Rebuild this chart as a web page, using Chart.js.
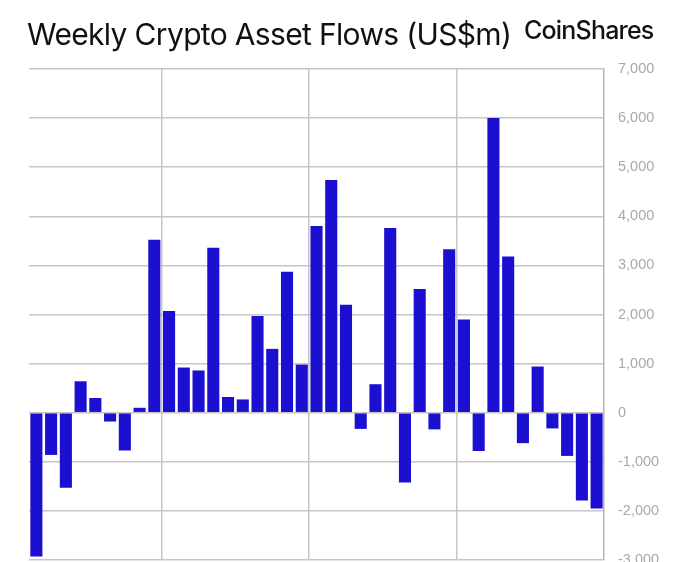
<!DOCTYPE html>
<html>
<head>
<meta charset="utf-8">
<title>Weekly Crypto Asset Flows</title>
<script src="https://cdn.jsdelivr.net/npm/chart.js@4"></script>
<style>
    html, body { margin: 0; padding: 0; background: #fff; overflow: hidden; }
    body { width: 680px; height: 562px; position: relative; }
    #title { position: absolute; left: 27px; top: 16px; font: 400 30px Inter, sans-serif; letter-spacing: -0.66px; color: #111; white-space: nowrap; }
    #logo { position: absolute; left: 524px; top: 15px; font: 500 25px Inter, sans-serif; letter-spacing: -0.8px; color: #111; white-space: nowrap; }
    #wrap { position: absolute; left: 0; top: 0; width: 680px; height: 600px; }
</style>
</head>
<body>
<div id="wrap"><canvas id="flowChart"></canvas></div>
<div id="title">Weekly Crypto Asset Flows (US$m)</div>
<div id="logo">CoinShares</div>
<script>
const weeks = ['W1', 'W2', 'W3', 'W4', 'W5', 'W6', 'W7', 'W8', 'W9', 'W10',
    'W11', 'W12', 'W13', 'W14', 'W15', 'W16', 'W17', 'W18', 'W19', 'W20',
    'W21', 'W22', 'W23', 'W24', 'W25', 'W26', 'W27', 'W28', 'W29', 'W30',
    'W31', 'W32', 'W33', 'W34', 'W35', 'W36', 'W37', 'W38', 'W39'];
const flows = [-2930, -860, -1530, 640, 300, -180, -770, 100, 3520, 2070,
    920, 860, 3360, 320, 270, 1970, 1300, 2870, 980, 3800,
    4740, 2200, -330, 580, 3760, -1420, 2520, -340, 3330, 1900,
    -780, 6000, 3180, -620, 940, -320, -880, -1790, -1950];
const yTickValues = [-3000, -2000, -1000, 0, 1000, 2000, 3000, 4000, 5000, 6000, 7000];
const dividerWeeks = ['W10', 'W20', 'W30'];

const ctx = document.getElementById('flowChart').getContext('2d');
new Chart(ctx, {
    type: 'bar',
    data: {
        labels: weeks,
        datasets: [{
            label: 'Weekly flows',
            data: flows,
            backgroundColor: '#1b10cf',
            categoryPercentage: 1,
            barPercentage: 0.82
        }]
    },
    options: {
        responsive: true,
        maintainAspectRatio: false,
        animation: false,
        layout: { padding: { left: 29, top: 69, right: 0, bottom: 40 } },
        plugins: { legend: { display: false }, tooltip: { enabled: false } },
        scales: {
            x: {
                ticks: { display: false, autoSkip: false },
                border: { display: false },
                grid: {
                    offset: true,
                    drawTicks: false,
                    lineWidth: 1.5,
                    // vertical lines only at the left edge of these weeks
                    color: c => dividerWeeks.includes(weeks[c.index]) ? '#c6c6c6' : 'transparent'
                }
            },
            y: {
                position: 'right',
                min: -3000,
                max: 7000,
                afterBuildTicks: scale => {
                    scale.ticks = yTickValues.map(v => ({ value: v }));
                },
                afterFit: scale => { scale.width = 76; },
                ticks: {
                    color: '#a9a9a9',
                    padding: 14,
                    font: { family: 'Liberation Sans', size: 14.5 },
                    callback: v => v.toLocaleString('en-US')
                },
                border: { color: '#b5b5b5', width: 1.5 },
                grid: { color: '#c6c6c6', lineWidth: 1.5, drawTicks: false }
            }
        }
    }
});
</script>
</body>
</html>
